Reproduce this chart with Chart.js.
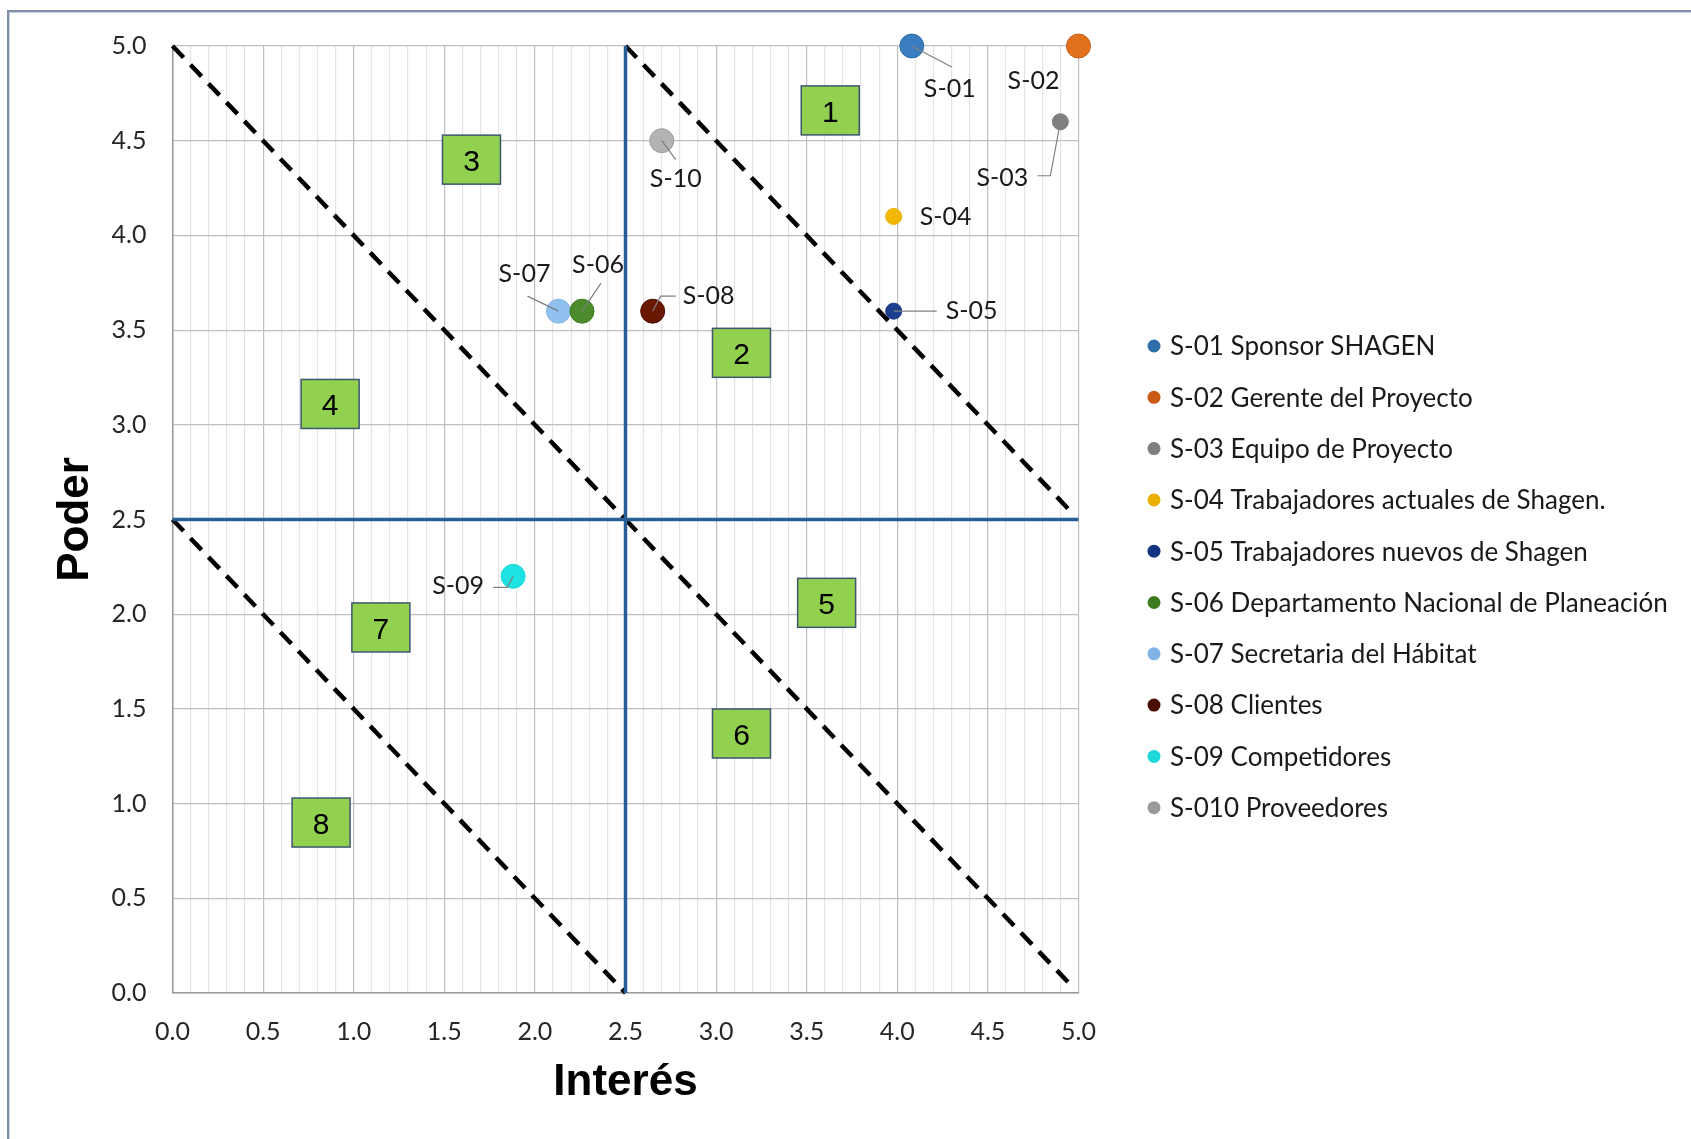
<!DOCTYPE html>
<html>
<head>
<meta charset="utf-8">
<script src="https://cdn.jsdelivr.net/npm/chart.js@4/dist/chart.umd.min.js"></script>
<style>
html,body{margin:0;padding:0;background:#fff;}
#wrap{position:relative;width:1691px;height:1139px;overflow:hidden;}
#frame{position:absolute;left:7px;top:10px;width:1700px;height:1150px;border-left:2px solid #7d8ea6;border-top:2px solid #7d8ea6;box-shadow:inset 1px 1px 0 #c9d2de;}
#c{position:absolute;left:0;top:0;}
</style>
</head>
<body>
<div id="wrap">
<div id="frame"></div>
<canvas id="c" width="1691" height="1139"></canvas>
</div>
<script>
// ---- data ----
const stakeholderIds = ['S-01','S-02','S-03','S-04','S-05','S-06','S-07','S-08','S-09','S-10'];
const legendNames = [
  'S-01 Sponsor SHAGEN',
  'S-02 Gerente del Proyecto',
  'S-03 Equipo de Proyecto',
  'S-04 Trabajadores actuales de Shagen.',
  'S-05 Trabajadores nuevos de Shagen',
  'S-06 Departamento Nacional de Planeación',
  'S-07 Secretaria del Hábitat',
  'S-08 Clientes',
  'S-09 Competidores',
  'S-010 Proveedores'
];
const interes = [4.08, 5.0, 4.9, 3.98, 3.98, 2.26, 2.13, 2.65, 1.88, 2.7];
const poder   = [5.0, 5.0, 4.6, 4.1, 3.6, 3.6, 3.6, 3.6, 2.2, 4.5];

const zoneLabels = ['1','2','3','4','5','6','7','8'];
const zoneX = [3.63, 3.14, 1.65, 0.87, 3.61, 3.14, 1.15, 0.82];
const zoneY = [4.66, 3.38, 4.40, 3.11, 2.06, 1.37, 1.93, 0.90];

const diagStartX = [0, 2.5, 0, 2.5];
const diagStartY = [5, 5, 2.5, 2.5];
const diagEndX   = [2.5, 4.95, 2.5, 4.95];
const diagEndY   = [2.5, 2.55, 0, 0.05];

const axisMin = 0, axisMax = 5, midValue = 2.5;
const xTickStep = 0.1, yTickStep = 0.5;

// ---- styles ----
const pointColors = ['#3a7dc0','#e2711d','#808080','#f2b705','#1d3d8f','#4b8b2b','#91c1ee','#6a1800','#1fe3e3','#b3b3b3'];
const legendColors = ['#2f6ea9','#c85a14','#7f7f7f','#e9b000','#12337f','#3e7a1f','#80b4e6','#4a0c00','#1cd8d8','#9a9a9a'];
const pointRadii = [12,12,8,8,8,12,12,12,12,12];
// label offsets in px relative to the point: text centre, leader polyline
const labelStyle = [
  {t:[38,43], l:[[40,21]]},
  {t:[-45,35], l:[]},
  {t:[-58,56], l:[[-10,54],[-23,54]]},
  {t:[52,0], l:[]},
  {t:[78,0], l:[[43,0]]},
  {t:[16,-46], l:[[19,-28]]},
  {t:[-34,-37], l:[[-31,-15]]},
  {t:[56,-15], l:[[8,-15],[23,-15]]},
  {t:[-55,10], l:[[-6,11],[-20,11]]},
  {t:[14,38], l:[[14,19]]}
];
const FONT = 'Lato, "Noto Sans", sans-serif';
const TITLE_FONT = '"Liberation Sans", Arial, sans-serif';

const isMajor = v => Math.abs(v*2 - Math.round(v*2)) < 1e-6;

const datasets = [];
stakeholderIds.forEach((id,i)=>{
  datasets.push({
    type:'scatter', label: legendNames[i],
    data:[{x:interes[i], y:poder[i]}],
    backgroundColor: pointColors[i], borderColor: legendColors[i], borderWidth:1,
    pointRadius: pointRadii[i], pointHoverRadius: pointRadii[i],
    clip:false, order:0, isStakeholder:true
  });
});
for (let k=0;k<diagStartX.length;k++){
  datasets.push({
    type:'line', label:'diag'+k,
    data:[{x:diagStartX[k],y:diagStartY[k]},{x:diagEndX[k],y:diagEndY[k]}],
    borderColor:'#000', borderWidth:4.5, borderDash:[16,10], pointRadius:0, fill:false, order:2, clip:false
  });
}
datasets.push({type:'line', label:'vmid', data:[{x:midValue,y:axisMax},{x:midValue,y:axisMin}],
  borderColor:'#295d95', borderWidth:3.5, pointRadius:0, order:1, clip:false});
datasets.push({type:'line', label:'hmid', data:[{x:axisMin,y:midValue},{x:axisMax,y:midValue}],
  borderColor:'#295d95', borderWidth:3.5, pointRadius:0, order:1, clip:false});

const zonePlugin = {
  id:'zones',
  afterDatasetsDraw(chart){
    const {ctx, scales:{x,y}} = chart;
    ctx.save();
    zoneLabels.forEach((lab,i)=>{
      const cx = x.getPixelForValue(zoneX[i]), cy = y.getPixelForValue(zoneY[i]);
      const w=58, h=49;
      ctx.fillStyle='#92d050';
      ctx.fillRect(cx-w/2, cy-h/2, w, h);
      ctx.lineWidth=1.5; ctx.strokeStyle='#3f5670';
      ctx.strokeRect(cx-w/2, cy-h/2, w, h);
      ctx.fillStyle='#000'; ctx.font='30px '+TITLE_FONT;
      ctx.textAlign='center'; ctx.textBaseline='middle';
      ctx.fillText(lab, cx, cy+3);
    });
    ctx.restore();
  }
};

const labelPlugin = {
  id:'pointLabels',
  afterDraw(chart){
    const {ctx, scales:{x,y}} = chart;
    ctx.save();
    stakeholderIds.forEach((id,i)=>{
      const px = x.getPixelForValue(interes[i]), py = y.getPixelForValue(poder[i]);
      const st = labelStyle[i];
      if (st.l.length){
        ctx.beginPath(); ctx.moveTo(px,py);
        st.l.forEach(p=>ctx.lineTo(px+p[0], py+p[1]));
        ctx.strokeStyle='#7f7f7f'; ctx.lineWidth=1.2; ctx.stroke();
      }
      ctx.fillStyle='#1a1a1a'; ctx.font='25px '+FONT;
      ctx.textAlign='center'; ctx.textBaseline='middle';
      ctx.fillText(id, px+st.t[0], py+st.t[1]);
    });
    ctx.restore();
  }
};

const legendPlugin = {
  id:'customLegend',
  afterDraw(chart){
    const ctx = chart.ctx;
    ctx.save();
    const items = chart.data.datasets.filter(d=>d.isStakeholder);
    const x0 = 1154, y0 = 346, dy = 51.3;
    items.forEach((d,i)=>{
      const yy = y0 + i*dy;
      ctx.beginPath(); ctx.arc(x0, yy, 6.5, 0, Math.PI*2);
      ctx.fillStyle = legendColors[i]; ctx.fill();
      ctx.fillStyle='#1a1a1a'; ctx.font='26px '+FONT;
      ctx.textAlign='left'; ctx.textBaseline='middle';
      ctx.fillText(d.label, 1170, yy+1);
    });
    ctx.restore();
  }
};

new Chart(document.getElementById('c'), {
  data:{datasets},
  options:{
    responsive:false, animation:false,
    layout:{padding:{left:0, top:46, right:612.5, bottom:0}},
    plugins:{legend:{display:false}, tooltip:{enabled:false}},
    scales:{
      x:{
        type:'linear', min:axisMin, max:axisMax,
        afterFit(s){ s.height = 146; },
        ticks:{stepSize:xTickStep, autoSkip:false, maxRotation:0, padding:24,
          color:'#262626', font:{family:FONT, size:25},
          callback:(v)=> isMajor(v) ? v.toFixed(1) : ''},
        grid:{drawTicks:false, color:(c)=> (c.tick && isMajor(c.tick.value)) ? '#bfbfbf' : '#e4e4e4', lineWidth:1.2},
        border:{color:'#9a9a9a', width:1.5},
        title:{display:true, text:'Interés', color:'#000', font:{family:TITLE_FONT, size:44, weight:'bold'}, padding:{top:0,bottom:30}}
      },
      y:{
        type:'linear', min:axisMin, max:axisMax,
        afterFit(s){ s.width = 172.5; },
        ticks:{stepSize:yTickStep, padding:26, color:'#262626', font:{family:FONT, size:25},
          callback:(v)=> v.toFixed(1)},
        grid:{drawTicks:false, color:'#bfbfbf', lineWidth:1.2},
        border:{color:'#9a9a9a', width:1.5},
        title:{display:true, text:'Poder', color:'#000', font:{family:TITLE_FONT, size:44, weight:'bold'}, padding:{top:49,bottom:0}}
      }
    }
  },
  plugins:[zonePlugin, labelPlugin, legendPlugin]
});
</script>
</body>
</html>
